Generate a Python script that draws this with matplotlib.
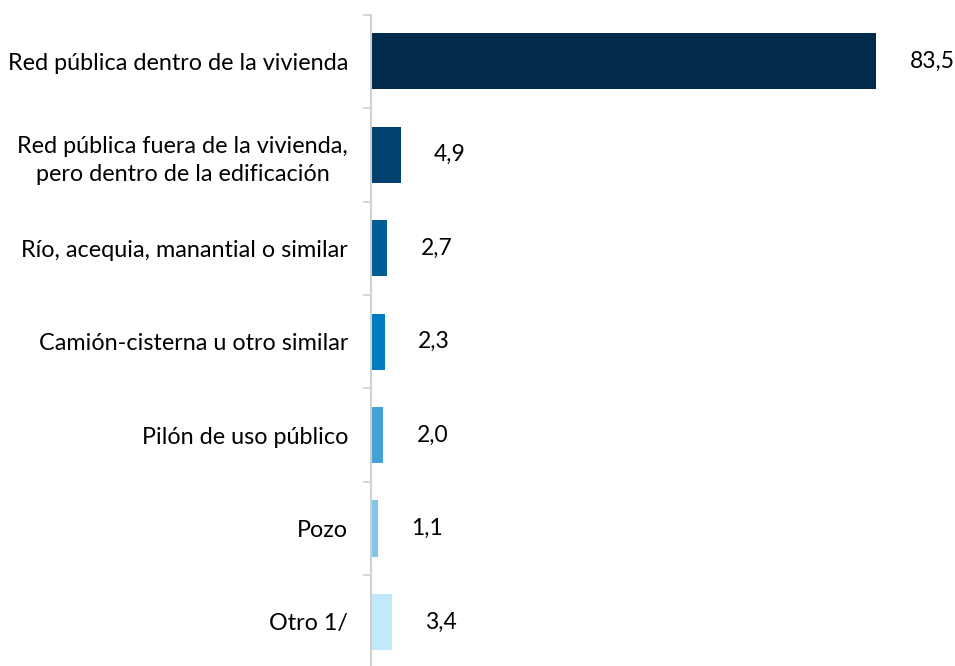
import matplotlib
matplotlib.use("Agg")
import matplotlib.pyplot as plt
import numpy as np

categorias = [
    "Red pública dentro de la vivienda",
    "Red pública fuera de la vivienda,\npero dentro de la edificación",
    "Río, acequia, manantial o similar",
    "Camión-cisterna u otro similar",
    "Pilón de uso público",
    "Pozo",
    "Otro 1/",
]
valores = [83.5, 4.9, 2.7, 2.3, 2.0, 1.1, 3.4]
etiquetas = ["83,5", "4,9", "2,7", "2,3", "2,0", "1,1", "3,4"]
colores = ["#022A4A", "#00416F", "#005C97", "#007DC1", "#43A3D7", "#80C6E8", "#C0E9FA"]

plt.rcParams["font.family"] = ["Lato", "DejaVu Sans"]

fig = plt.figure(figsize=(9.55, 6.66), dpi=100)
# ejes colocados a mano para coincidir con la imagen
ax = fig.add_axes([371 / 955, -0.004, (955 - 371) / 955, 0.982])

y = np.arange(len(categorias))
ax.barh(y, valores, height=0.6, color=colores)

for yi, v, txt in zip(y, valores, etiquetas):
    ax.annotate(txt, (v, yi), xytext=(24, 0), textcoords="offset points",
                va="center", ha="left", fontsize=16.5, color="#000000")

ax.set_ylim(len(categorias) - 0.5, -0.5)
ax.set_xlim(0, (955 - 371) / 6.05)

ax.set_yticks(y)
ax.set_yticklabels(categorias, fontsize=16.8)
ax.set_yticks(np.arange(-0.5, len(categorias), 1), minor=True)
ax.tick_params(axis="y", which="major", length=0, pad=0)
ax.tick_params(axis="y", which="minor", length=5.8, width=1.2, color="#D0D0D0")

for lbl in ax.get_yticklabels():
    lbl.set_multialignment("center")
    lbl.set_linespacing(1.4)
    lbl.set_ha("right")
    lbl.set_x(-23 / 584)

ax.set_xticks([])
for lado in ["top", "right", "bottom"]:
    ax.spines[lado].set_visible(False)
ax.spines["left"].set_color("#D0D0D0")
ax.spines["left"].set_linewidth(1.5)
ax.spines["left"].set_bounds(-0.5, len(categorias) - 0.5)

fig.savefig("out.png", dpi=100)
